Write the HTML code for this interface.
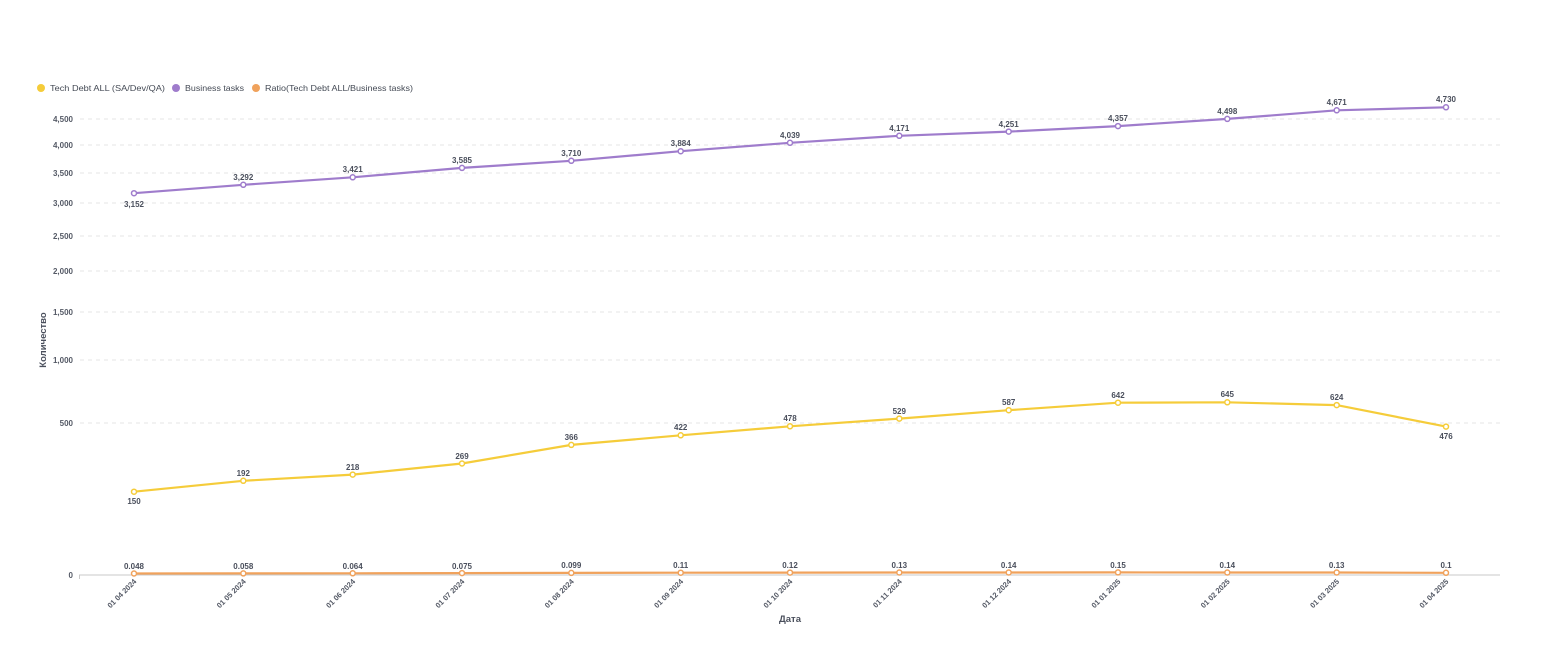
<!DOCTYPE html>
<html><head><meta charset="utf-8"><style>
html,body{margin:0;padding:0;background:#fff;}
svg{display:block;font-family:"Liberation Sans",sans-serif;}
.t{font-size:8px;fill:#4a4f5c;font-weight:bold;}
.y{font-size:8px;fill:#555a66;font-weight:bold;text-anchor:end;}
.d{font-size:7.5px;fill:#555a66;font-weight:bold;text-anchor:end;}
.g{stroke:#e6e6e6;stroke-dasharray:4 4;stroke-width:1;}
.l{font-size:8.5px;fill:#444a55;}
</style></head><body>
<svg width="1560" height="646" viewBox="0 0 1560 646">
<circle cx="41" cy="88" r="4" fill="#f5cc3a"/><text class="l" x="50" y="91" textLength="115" lengthAdjust="spacingAndGlyphs">Tech Debt ALL (SA/Dev/QA)</text>
<circle cx="176" cy="88" r="4" fill="#9f7ccc"/><text class="l" x="185" y="91" textLength="59" lengthAdjust="spacingAndGlyphs">Business tasks</text>
<circle cx="256" cy="88" r="4" fill="#f0a25c"/><text class="l" x="265" y="91" textLength="148" lengthAdjust="spacingAndGlyphs">Ratio(Tech Debt ALL/Business tasks)</text>

<g>
<line class="g" x1="80" x2="1500" y1="119" y2="119"/>
<line class="g" x1="80" x2="1500" y1="145" y2="145"/>
<line class="g" x1="80" x2="1500" y1="173" y2="173"/>
<line class="g" x1="80" x2="1500" y1="203" y2="203"/>
<line class="g" x1="80" x2="1500" y1="236" y2="236"/>
<line class="g" x1="80" x2="1500" y1="271" y2="271"/>
<line class="g" x1="80" x2="1500" y1="312" y2="312"/>
<line class="g" x1="80" x2="1500" y1="360" y2="360"/>
<line class="g" x1="80" x2="1500" y1="423" y2="423"/>
</g>
<g>
<text class="y" x="73" y="122">4,500</text>
<text class="y" x="73" y="148">4,000</text>
<text class="y" x="73" y="176">3,500</text>
<text class="y" x="73" y="206">3,000</text>
<text class="y" x="73" y="239">2,500</text>
<text class="y" x="73" y="274">2,000</text>
<text class="y" x="73" y="315">1,500</text>
<text class="y" x="73" y="363">1,000</text>
<text class="y" x="73" y="426">500</text>
<text class="y" x="73" y="578">0</text>
</g>
<line x1="79" x2="1500" y1="575" y2="575" stroke="#c8c8c8" stroke-width="1"/>
<line x1="79.5" x2="79.5" y1="575" y2="579" stroke="#c8c8c8"/>
<text x="46" y="340" transform="rotate(-90 46 340)" style="font-size:9.5px;font-weight:bold;fill:#4a4f5c;text-anchor:middle">Количество</text>
<text x="790" y="622" style="font-size:9.5px;font-weight:bold;fill:#4a4f5c;text-anchor:middle">Дата</text>

<polyline fill="none" stroke="#9f7ccc" stroke-width="2.2" points="134,193.2 243.3,184.8 352.7,177.3 462,167.9 571.3,160.8 680.7,151.2 790,142.8 899.3,135.8 1008.7,131.6 1118,126.1 1227.3,118.9 1336.7,110.3 1446,107.3"/>
<polyline fill="none" stroke="#f5cc3a" stroke-width="2.2" points="134,491.7 243.3,480.8 352.7,474.6 462,463.5 571.3,444.9 680.7,435.3 790,426.3 899.3,418.6 1008.7,410.2 1118,402.7 1227.3,402.3 1336.7,405.1 1446,426.6"/>
<polyline fill="none" stroke="#f0a25c" stroke-width="2.2" points="134,573.5 243.3,573.4 352.7,573.3 462,573.1 571.3,572.9 680.7,572.7 790,572.6 899.3,572.5 1008.7,572.5 1118,572.4 1227.3,572.5 1336.7,572.5 1446,572.8"/>

<g fill="#fff" stroke="#9f7ccc" stroke-width="1.5">
<circle cx="134" cy="193.2" r="2.5"/><circle cx="243.3" cy="184.8" r="2.5"/><circle cx="352.7" cy="177.3" r="2.5"/><circle cx="462" cy="167.9" r="2.5"/><circle cx="571.3" cy="160.8" r="2.5"/><circle cx="680.7" cy="151.2" r="2.5"/><circle cx="790" cy="142.8" r="2.5"/><circle cx="899.3" cy="135.8" r="2.5"/><circle cx="1008.7" cy="131.6" r="2.5"/><circle cx="1118" cy="126.1" r="2.5"/><circle cx="1227.3" cy="118.9" r="2.5"/><circle cx="1336.7" cy="110.3" r="2.5"/><circle cx="1446" cy="107.3" r="2.5"/>
</g>
<g fill="#fff" stroke="#f5cc3a" stroke-width="1.5">
<circle cx="134" cy="491.7" r="2.5"/><circle cx="243.3" cy="480.8" r="2.5"/><circle cx="352.7" cy="474.6" r="2.5"/><circle cx="462" cy="463.5" r="2.5"/><circle cx="571.3" cy="444.9" r="2.5"/><circle cx="680.7" cy="435.3" r="2.5"/><circle cx="790" cy="426.3" r="2.5"/><circle cx="899.3" cy="418.6" r="2.5"/><circle cx="1008.7" cy="410.2" r="2.5"/><circle cx="1118" cy="402.7" r="2.5"/><circle cx="1227.3" cy="402.3" r="2.5"/><circle cx="1336.7" cy="405.1" r="2.5"/><circle cx="1446" cy="426.6" r="2.5"/>
</g>
<g fill="#fff" stroke="#f0a25c" stroke-width="1.5">
<circle cx="134" cy="573.5" r="2.5"/><circle cx="243.3" cy="573.4" r="2.5"/><circle cx="352.7" cy="573.3" r="2.5"/><circle cx="462" cy="573.1" r="2.5"/><circle cx="571.3" cy="572.9" r="2.5"/><circle cx="680.7" cy="572.7" r="2.5"/><circle cx="790" cy="572.6" r="2.5"/><circle cx="899.3" cy="572.5" r="2.5"/><circle cx="1008.7" cy="572.5" r="2.5"/><circle cx="1118" cy="572.4" r="2.5"/><circle cx="1227.3" cy="572.5" r="2.5"/><circle cx="1336.7" cy="572.5" r="2.5"/><circle cx="1446" cy="572.8" r="2.5"/>
</g>

<g class="t" text-anchor="middle">
<text x="134" y="207">3,152</text><text x="243.3" y="180">3,292</text><text x="352.7" y="172">3,421</text><text x="462" y="163">3,585</text><text x="571.3" y="156">3,710</text><text x="680.7" y="146">3,884</text><text x="790" y="138">4,039</text><text x="899.3" y="131">4,171</text><text x="1008.7" y="127">4,251</text><text x="1118" y="121">4,357</text><text x="1227.3" y="114">4,498</text><text x="1336.7" y="105">4,671</text><text x="1446" y="102">4,730</text>
<text x="134" y="504">150</text><text x="243.3" y="476">192</text><text x="352.7" y="470">218</text><text x="462" y="459">269</text><text x="571.3" y="440">366</text><text x="680.7" y="430">422</text><text x="790" y="421">478</text><text x="899.3" y="414">529</text><text x="1008.7" y="405">587</text><text x="1118" y="398">642</text><text x="1227.3" y="397">645</text><text x="1336.7" y="400">624</text><text x="1446" y="439">476</text>
<text x="134" y="569">0.048</text><text x="243.3" y="569">0.058</text><text x="352.7" y="569">0.064</text><text x="462" y="569">0.075</text><text x="571.3" y="568">0.099</text><text x="680.7" y="568">0.11</text><text x="790" y="568">0.12</text><text x="899.3" y="568">0.13</text><text x="1008.7" y="568">0.14</text><text x="1118" y="568">0.15</text><text x="1227.3" y="568">0.14</text><text x="1336.7" y="568">0.13</text><text x="1446" y="568">0.1</text>
</g>

<g>
<text class="d" transform="translate(137 582) rotate(-45)">01 04 2024</text>
<text class="d" transform="translate(246.3 582) rotate(-45)">01 05 2024</text>
<text class="d" transform="translate(355.7 582) rotate(-45)">01 06 2024</text>
<text class="d" transform="translate(465 582) rotate(-45)">01 07 2024</text>
<text class="d" transform="translate(574.3 582) rotate(-45)">01 08 2024</text>
<text class="d" transform="translate(683.7 582) rotate(-45)">01 09 2024</text>
<text class="d" transform="translate(793 582) rotate(-45)">01 10 2024</text>
<text class="d" transform="translate(902.3 582) rotate(-45)">01 11 2024</text>
<text class="d" transform="translate(1011.7 582) rotate(-45)">01 12 2024</text>
<text class="d" transform="translate(1121 582) rotate(-45)">01 01 2025</text>
<text class="d" transform="translate(1230.3 582) rotate(-45)">01 02 2025</text>
<text class="d" transform="translate(1339.7 582) rotate(-45)">01 03 2025</text>
<text class="d" transform="translate(1449 582) rotate(-45)">01 04 2025</text>
</g>
</svg>
</body></html>
